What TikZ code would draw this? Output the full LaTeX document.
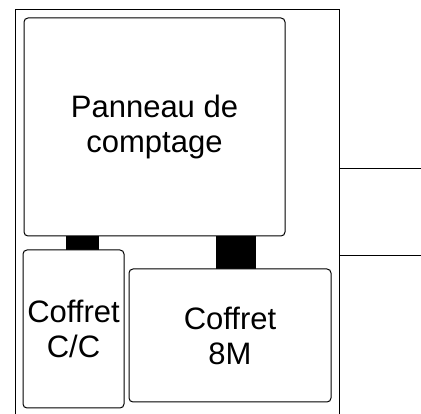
\documentclass[tikz,border=0pt]{standalone}
\usepackage{fontspec}
\setmainfont{Liberation Sans}
\begin{document}
\begin{tikzpicture}[x=1pt,y=-1pt,
  box/.style={draw=black,line width=1pt,rounded corners=4pt,fill=white,inner sep=0pt,align=center,
    font=\fontsize{31}{35}\selectfont},
  link/.style={fill=black,draw=none,inner sep=0pt},
  wire/.style={draw=black,line width=1pt}]
\useasboundingbox (0,0) rectangle (421,414);
% outer enclosure (open at the bottom)
\coordinate (oBL) at (15,416);
\coordinate (oTL) at (15,9.5);
\coordinate (oTR) at (339,9.5);
\coordinate (oBR) at (339,416);
\draw[wire] (oBL) -- (oTL) -- (oTR) -- (oBR);
% links
\node[link,minimum width=33pt,minimum height=15pt] (l1) at (82.5,243) {};
\node[link,minimum width=40pt,minimum height=34pt] (l2) at (236,252.5) {};
% boxes
\node[box,minimum width=261pt,minimum height=218pt] (pan) at (154.5,127) {Panneau de\\comptage};
\node[box,minimum width=101pt,minimum height=158pt] (cc) at (73.5,329) {Coffret\\C/C};
\node[box,minimum width=202pt,minimum height=133pt] (m8) at (230,335.5) {Coffret\\8M};
% wires on the right
\coordinate (w1a) at (339,169);
\coordinate (w1b) at (421,169);
\coordinate (w2a) at (339,256);
\coordinate (w2b) at (421,256);
\draw[wire] (w1a) -- (w1b);
\draw[wire] (w2a) -- (w2b);
\end{tikzpicture}
\end{document}
